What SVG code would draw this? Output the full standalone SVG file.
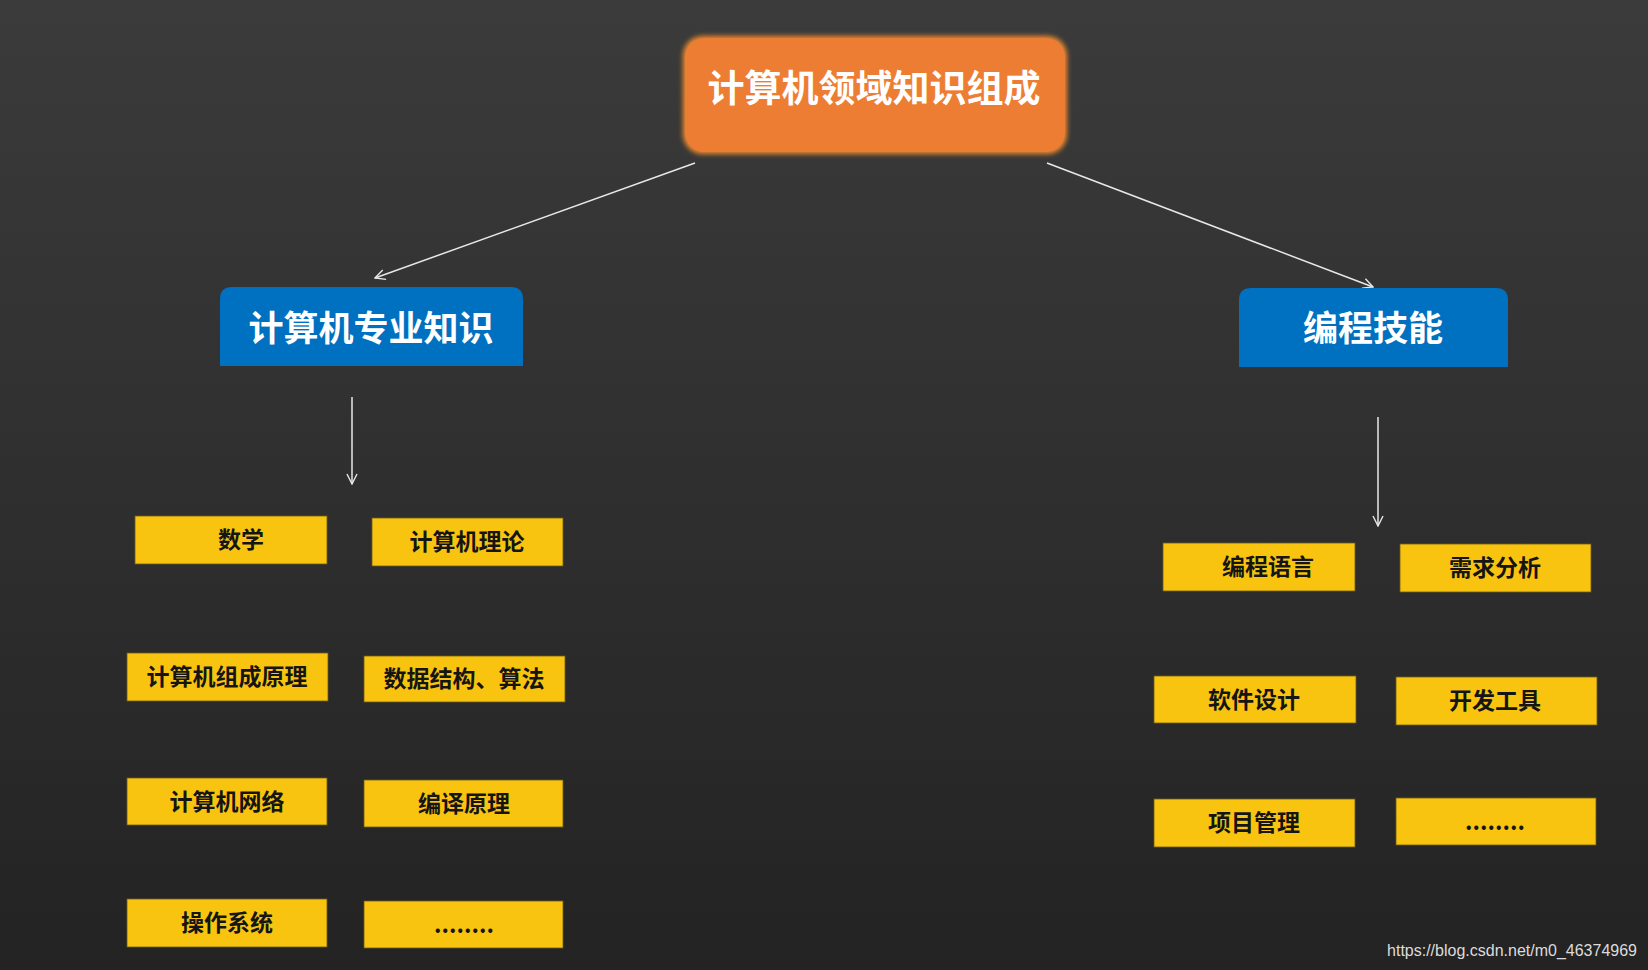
<svg xmlns="http://www.w3.org/2000/svg" width="1648" height="970" viewBox="0 0 1648 970">
<defs>
<linearGradient id="bg" x1="0" y1="0" x2="0" y2="1">
<stop offset="0" stop-color="#3b3b3b"/>
<stop offset="1" stop-color="#232323"/>
</linearGradient>
<filter id="glow" x="-10%" y="-20%" width="120%" height="140%">
<feGaussianBlur in="SourceAlpha" stdDeviation="3"/>
<feFlood flood-color="#f08a2e"/>
<feComposite operator="in" in2="SourceAlpha"/>
<feMorphology operator="dilate" radius="2"/>
<feGaussianBlur stdDeviation="2.5" result="g"/>
<feMerge><feMergeNode in="g"/><feMergeNode in="SourceGraphic"/></feMerge>
</filter>
<marker id="arr" viewBox="0 0 12 12" refX="11" refY="6" markerWidth="12" markerHeight="12" markerUnits="userSpaceOnUse" orient="auto">
<path d="M1,1 L11,6 L1,11" fill="none" stroke="#e8e8e8" stroke-width="1.4"/>
</marker>
</defs>
<style>
.title{font-family:"Noto Sans CJK SC","Noto Sans",sans-serif;font-weight:bold;fill:#ffffff;text-anchor:middle}
.leaf rect{fill:#f9c40f;stroke:#6b5a1a;stroke-width:0.8}
.leaf text{font-family:"Noto Sans CJK SC","Noto Sans",sans-serif;font-weight:bold;font-size:23px;fill:#151515;text-anchor:middle}
.conn line{stroke:#e8e8e8;stroke-width:1.5;marker-end:url(#arr)}
</style>
<rect x="0" y="0" width="1648" height="970" fill="url(#bg)"/>

<g id="connectors" class="conn">
<line x1="695" y1="163" x2="375" y2="278"/>
<line x1="1047" y1="163" x2="1373" y2="287"/>
<line x1="352" y1="397" x2="352" y2="484"/>
<line x1="1378" y1="417" x2="1378" y2="526"/>
</g>

<g id="root">
<rect x="685" y="38" width="380" height="114" rx="20" fill="#ed7d31" filter="url(#glow)"/>
<text class="title" x="874" y="102" font-size="37">计算机领域知识组成</text>
</g>

<g id="cs">
<path d="M220,366 L220,299 Q220,287 232,287 L511,287 Q523,287 523,299 L523,366 Z" fill="#0070c0"/>
<text class="title" x="371" y="341" font-size="35">计算机专业知识</text>
</g>

<g id="prog">
<path d="M1239,367 L1239,300 Q1239,288 1251,288 L1496,288 Q1508,288 1508,300 L1508,367 Z" fill="#0070c0"/>
<text class="title" x="1373" y="341" font-size="35">编程技能</text>
</g>

<g id="math" class="leaf"><rect x="135" y="516" width="192" height="48"/><text x="241" y="548">数学</text></g>
<g id="theory" class="leaf"><rect x="372" y="518" width="191" height="48"/><text x="467" y="550">计算机理论</text></g>
<g id="organization" class="leaf"><rect x="127" y="653" width="201" height="48"/><text x="227" y="685">计算机组成原理</text></g>
<g id="dsa" class="leaf"><rect x="364" y="656" width="201" height="46"/><text x="464" y="687">数据结构、算法</text></g>
<g id="network" class="leaf"><rect x="127" y="778" width="200" height="47"/><text x="227" y="810">计算机网络</text></g>
<g id="compiler" class="leaf"><rect x="364" y="780" width="199" height="47"/><text x="464" y="812">编译原理</text></g>
<g id="os" class="leaf"><rect x="127" y="899" width="200" height="48"/><text x="227" y="931">操作系统</text></g>
<g id="more-left" class="leaf"><rect x="364" y="901" width="199" height="47"/><text x="464" y="933">........</text></g>

<g id="lang" class="leaf"><rect x="1163" y="543" width="192" height="48"/><text x="1268" y="575">编程语言</text></g>
<g id="req" class="leaf"><rect x="1400" y="544" width="191" height="48"/><text x="1495" y="576">需求分析</text></g>
<g id="design" class="leaf"><rect x="1154" y="676" width="202" height="47"/><text x="1254" y="708">软件设计</text></g>
<g id="tools" class="leaf"><rect x="1396" y="677" width="201" height="48"/><text x="1495" y="709">开发工具</text></g>
<g id="pm" class="leaf"><rect x="1154" y="799" width="201" height="48"/><text x="1254" y="831">项目管理</text></g>
<g id="more-right" class="leaf"><rect x="1396" y="798" width="200" height="47"/><text x="1495" y="830">........</text></g>

<text x="1637" y="956" font-family="Liberation Sans, Arial, sans-serif" font-size="16" fill="#dcdcdc" text-anchor="end">https://blog.csdn.net/m0_46374969</text>
</svg>
